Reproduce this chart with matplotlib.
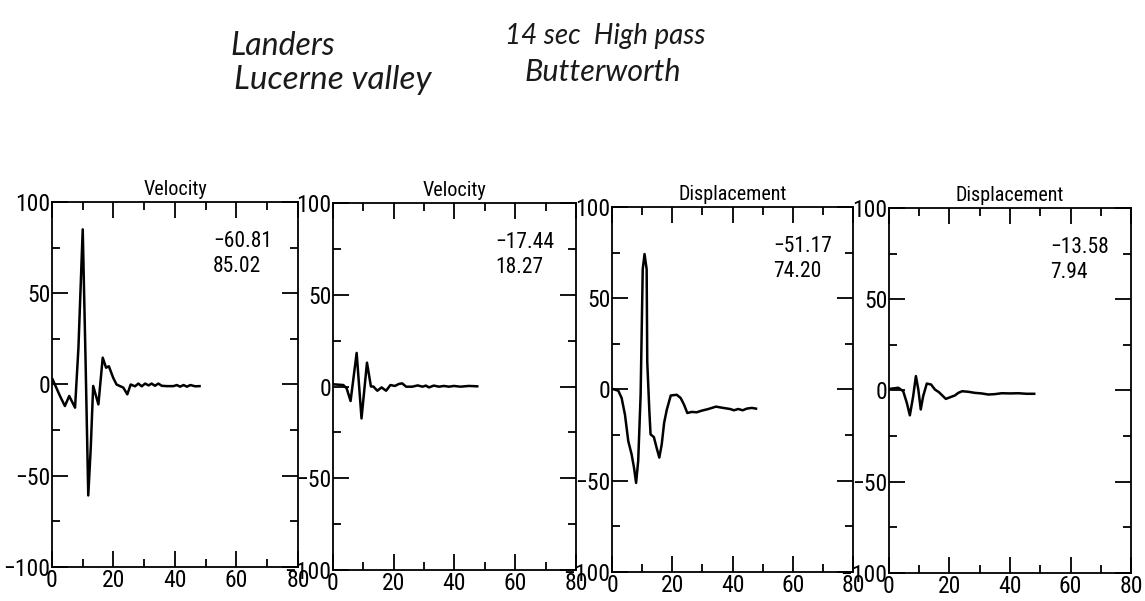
import matplotlib
matplotlib.use("Agg")
import matplotlib.pyplot as plt
from matplotlib.ticker import MultipleLocator
from matplotlib import font_manager

# ---------------- data ----------------
titles = ["Velocity", "Velocity", "Displacement", "Displacement"]
peak_min = ["\u221260.81", "\u221217.44", "\u221251.17", "\u221213.58"]
peak_max = ["85.02", "18.27", "74.20", "7.94"]

t1 = [0.2, 2.6, 4.2, 5.6, 7.5, 8.6, 10.0, 10.9, 11.8, 12.6, 13.4, 15.1, 16.5, 17.6, 18.5,
      19.9, 21.0, 22.0, 23.2, 24.5, 25.6, 27.0, 28.1, 29.2, 30.3, 31.4, 32.4, 33.5,
      34.6, 35.7, 37.4, 39.5, 40.6, 41.7, 42.8, 43.9, 45.0, 46.6, 48.0]
v1 = [2.8, -6.3, -11.8, -6.3, -12.7, 20.0, 85.0, 15.0, -60.8, -35.0, -0.8, -10.9, 14.7,
      9.2, 10.0, 3.7, 0.0, -0.8, -1.7, -5.4, 0.0, -1.0, 0.5, -1.0, 0.5, -0.5, 0.5, -0.7,
      0.5, -0.7, -0.9, -0.9, -0.3, -1.2, -0.3, -1.2, -0.3, -1.0, -0.9]

t2 = [0.1, 3.4, 4.5, 5.8, 7.8, 9.4, 11.2, 12.5, 13.3, 14.6, 16.0, 17.5, 18.9, 20.4,
      21.7, 22.8, 24.1, 26.1, 27.9, 29.5, 30.6, 31.6, 33.2, 34.9, 36.5, 38.2, 39.8,
      42.0, 44.7, 47.5]
v2 = [1.2, 0.8, -1.0, -7.9, 18.3, -17.4, 13.0, 0.0, 0.0, -2.3, -0.5, -2.3, 0.8, 0.3,
      1.4, 1.7, -0.1, -0.1, 0.6, -0.1, 0.5, -0.5, 0.5, -0.1, 0.3, -0.1, 0.3,
      -0.1, 0.3, 0.1]

t3 = [0.4, 2.1, 3.2, 4.3, 5.4, 6.5, 7.3, 8.0, 8.7, 9.5, 10.2, 10.8, 11.5, 11.7, 12.4,
      12.8, 13.9, 14.8, 15.7, 16.5, 17.3, 18.2, 19.5, 21.5, 22.8, 23.9, 25.0, 26.4,
      28.1, 29.8, 32.0, 34.5, 36.9, 39.2, 40.5, 41.9, 43.4, 44.7, 46.4, 47.8]
v3 = [0.2, -0.7, -4.7, -13.8, -28.3, -35.5, -42.8, -51.2, -39.0, -2.9, 65.9, 74.2, 65.9,
      15.2, -12.0, -24.6, -26.1, -31.9, -37.3, -30.1, -18.3, -11.0, -3.3, -2.9, -4.7,
      -8.3, -12.9, -12.3, -12.5, -11.6, -10.7, -9.4, -10.1, -10.7, -11.4, -10.7, -11.4,
      -10.5, -10.1, -10.5]

t4 = [0.3, 3.1, 4.7, 5.9, 6.9, 8.0, 8.9, 9.7, 10.5, 11.3, 12.5, 13.9, 15.2, 16.5, 17.6,
      18.8, 20.2, 21.8, 22.9, 24.2, 26.2, 28.4, 30.6, 32.8, 35.0, 37.2, 40.0, 42.7,
      45.5, 48.0]
v4 = [0.9, 1.5, -0.4, -6.8, -13.6, -3.1, 7.9, 0.5, -10.4, -3.1, 3.8, 3.3, 0.5, -0.9,
      -2.7, -4.6, -3.7, -2.7, -1.3, -0.4, -0.7, -1.3, -1.6, -2.2, -2.0, -1.5, -1.6,
      -1.5, -1.8, -1.8]

times = [t1, t2, t3, t4]
values = [v1, v2, v3, v4]

xticks = [0, 20, 40, 60, 80]
yticks = [-100, -50, 0, 50, 100]

# ---------------- pick a narrow font if one is installed ----------------
fp = None
names = {f.name for f in font_manager.fontManager.ttflist}
for cand in ["Liberation Sans Narrow", "Roboto Condensed", "Open Sans Condensed",
             "DejaVu Sans Condensed", "Noto Sans Condensed"]:
    if cand in names:
        fp = dict(family=[cand, "DejaVu Sans"], stretch="normal")
        break
if fp is None:
    for f in font_manager.fontManager.ttflist:
        if str(f.stretch) in ("condensed", "semi-condensed", "extra-condensed", "575", "500") \
                and f.style == "normal" and str(f.weight) in ("400", "normal"):
            fp = dict(family=[f.name, "DejaVu Sans"], stretch=f.stretch)
            break
if fp is None:
    fp = dict(family=["DejaVu Sans"], stretch="normal")
    tick_size, title_size, ann_size = 14, 12.5, 13
else:
    tick_size, title_size, ann_size = 17, 14.5, 15.5

plt.rcParams["font.family"] = fp["family"]
plt.rcParams["font.stretch"] = fp["stretch"]

fig = plt.figure(figsize=(11.45, 6.01), dpi=100)
fig.patch.set_facecolor("white")

# axes rectangles (fig fraction)
rects = [
    [0.0454, 0.0566, 0.2148, 0.6073],
    [0.2908, 0.0516, 0.2122, 0.6106],
    [0.5345, 0.0483, 0.2105, 0.6073],
    [0.7764, 0.0466, 0.2114, 0.6073],
]
ann_x = [52.4, 53.3, 53.4, 53.2]

for i in range(4):
    ax = fig.add_axes(rects[i])
    ax.plot(times[i], values[i], color="black", lw=1.8, solid_joinstyle="round")
    ax.set_xlim(0, 80)
    ax.set_ylim(-100, 100)
    ax.set_xticks(xticks)
    ax.set_yticks(yticks)
    ax.xaxis.set_minor_locator(MultipleLocator(10))
    ax.yaxis.set_minor_locator(MultipleLocator(25))
    ax.tick_params(which="both", direction="in", top=True, right=True,
                   color="black", width=1.3)
    ax.tick_params(which="major", length=11.5, labelsize=tick_size)
    ax.tick_params(which="minor", length=5.5)
    ax.tick_params(axis="x", which="major", pad=1.5)
    ax.tick_params(axis="y", which="major", pad=1)
    for s in ax.spines.values():
        s.set_linewidth(1.3)
    ax.set_title(titles[i], fontsize=title_size, pad=5)
    ax.text(ann_x[i], 75.3, peak_min[i], fontsize=ann_size, ha="left", va="baseline")
    ax.text(ann_x[i], 61.6, peak_max[i], fontsize=ann_size, ha="left", va="baseline")

# handwritten notes at the top
hand = dict(color="#1a1a1a", fontweight="normal",
            family=["Lato", "DejaVu Sans"], style="italic", stretch="normal")
fig.text(0.201, 0.908, "Landers", ha="left", va="baseline", fontsize=23, **hand)
fig.text(0.204, 0.852, "Lucerne valley", ha="left", va="baseline", fontsize=24, **hand)
fig.text(0.441, 0.926, "14 sec  High pass", ha="left", va="baseline", fontsize=20, **hand)
fig.text(0.458, 0.866, "Butterworth", ha="left", va="baseline", fontsize=22, **hand)

fig.savefig("out.png", dpi=100, facecolor="white")
